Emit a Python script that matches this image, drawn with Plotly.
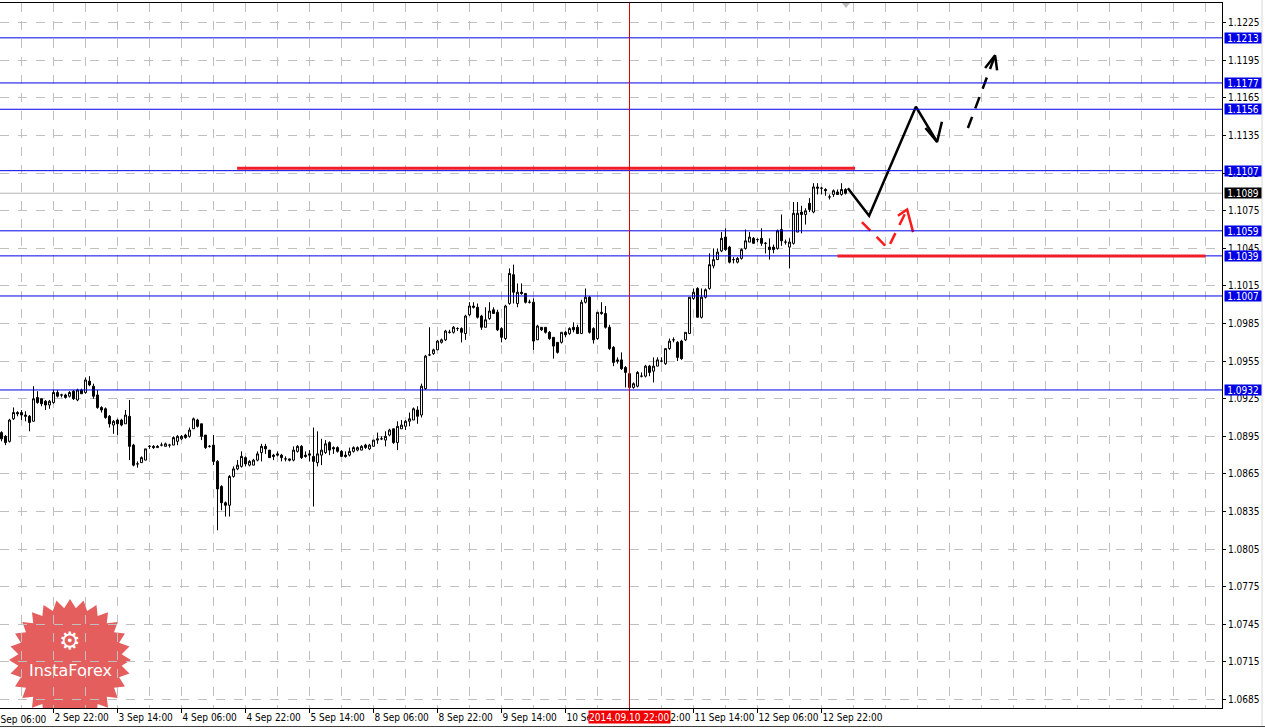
import math
import plotly.graph_objects as go

# ---------------- data (EURUSD-like H1 bars) ----------------
bar_open = [1.0898,1.0895,1.0891,1.0909,1.0914,1.0914,1.0912,1.0911,1.0907,1.0926,
            1.0925,1.0923,1.0920,1.0922,1.0930,1.0928,1.0928,1.0927,1.0931,1.0924,
            1.0932,1.0930,1.0939,1.0935,1.0928,1.0918,1.0917,1.0911,1.0904,1.0908,
            1.0908,1.0905,1.0911,1.0888,1.0873,1.0874,1.0876,1.0887,1.0887,1.0886,
            1.0888,1.0887,1.0888,1.0888,1.0891,1.0893,1.0896,1.0895,1.0901,1.0908,
            1.0905,1.0896,1.0887,1.0888,1.0875,1.0855,1.0842,1.0840,1.0863,1.0869,
            1.0871,1.0878,1.0872,1.0872,1.0876,1.0882,1.0887,1.0884,1.0880,1.0881,
            1.0880,1.0877,1.0877,1.0876,1.0883,1.0887,1.0880,1.0881,1.0879,1.0874,
            1.0880,1.0882,1.0890,1.0886,1.0886,1.0883,1.0880,1.0880,1.0883,1.0884,
            1.0884,1.0888,1.0885,1.0887,1.0892,1.0893,1.0892,1.0896,1.0901,1.0890,
            1.0901,1.0903,1.0907,1.0908,1.0916,1.0912,1.0933,1.0960,1.0961,1.0964,
            1.0970,1.0972,1.0978,1.0978,1.0981,1.0981,1.0977,1.0992,1.0999,1.0998,
            1.0991,1.0982,1.0989,1.0996,1.0994,1.0981,1.0973,1.1001,1.1024,1.1001,
            1.1010,1.1009,1.1002,1.1002,1.0972,1.0982,1.0982,1.0978,1.0974,1.0970,
            1.0970,1.0978,1.0977,1.0982,1.0982,1.0977,1.1002,1.1006,1.0981,1.0973,
            1.0994,1.0993,1.0982,1.0966,1.0956,1.0956,1.0950,1.0945,1.0934,1.0935,
            1.0943,1.0943,1.0951,1.0947,1.0951,1.0955,1.0953,1.0965,1.0972,1.0970,
            1.0971,1.0972,1.0977,1.1005,1.1013,1.0990,1.1006,1.1013,1.1031,1.1036,
            1.1043,1.1054,1.1046,1.1036,1.1034,1.1037,1.1045,1.1050,1.1053,1.1052,
            1.1053,1.1049,1.1046,1.1046,1.1045,1.1060,1.1050,1.1046,1.1049,1.1058,
            1.1074,1.1072,1.1081,1.1074,1.1094,1.1093,1.1092,1.1086,1.1088,1.1090,
            1.1088,1.1092]
bar_high = [1.0899,1.0896,1.0909,1.0918,1.0915,1.0916,1.0915,1.0912,1.0935,1.0931,
            1.0925,1.0924,1.0924,1.0932,1.0932,1.0929,1.0929,1.0931,1.0932,1.0933,
            1.0933,1.0942,1.0943,1.0937,1.0932,1.0919,1.0918,1.0912,1.0908,1.0909,
            1.0909,1.0916,1.0924,1.0889,1.0875,1.0879,1.0885,1.0888,1.0888,1.0888,
            1.0890,1.0890,1.0889,1.0895,1.0896,1.0896,1.0897,1.0902,1.0910,1.0909,
            1.0905,1.0896,1.0888,1.0896,1.0876,1.0856,1.0843,1.0864,1.0871,1.0876,
            1.0883,1.0879,1.0876,1.0877,1.0883,1.0889,1.0889,1.0884,1.0881,1.0883,
            1.0881,1.0879,1.0877,1.0887,1.0888,1.0888,1.0883,1.0884,1.0902,1.0899,
            1.0893,1.0892,1.0891,1.0887,1.0887,1.0884,1.0883,1.0886,1.0887,1.0887,
            1.0888,1.0889,1.0889,1.0892,1.0898,1.0895,1.0899,1.0901,1.0901,1.0907,
            1.0908,1.0908,1.0914,1.0918,1.0919,1.0937,1.0960,1.0982,1.0965,1.0972,
            1.0973,1.0980,1.0980,1.0983,1.0982,1.0982,1.0992,1.1002,1.1002,1.1001,
            1.0992,1.0998,1.1002,1.0998,1.0996,1.0982,1.1000,1.1029,1.1032,1.1017,
            1.1017,1.1009,1.1004,1.1005,1.0984,1.0982,1.0982,1.0979,1.0974,1.0970,
            1.0978,1.0979,1.0982,1.0986,1.0984,1.1004,1.1013,1.1007,1.0982,1.0994,
            1.1002,1.0999,1.0984,1.0967,1.0958,1.0962,1.0951,1.0946,1.0938,1.0947,
            1.0946,1.0952,1.0952,1.0958,1.0958,1.0958,1.0965,1.0973,1.0974,1.0971,
            1.0972,1.0978,1.1006,1.1013,1.1014,1.1013,1.1013,1.1041,1.1045,1.1045,
            1.1058,1.1061,1.1047,1.1038,1.1038,1.1045,1.1060,1.1058,1.1054,1.1053,
            1.1061,1.1050,1.1053,1.1048,1.1060,1.1072,1.1052,1.1053,1.1082,1.1082,
            1.1079,1.1077,1.1085,1.1097,1.1097,1.1094,1.1093,1.1088,1.1092,1.1092,
            1.1097,1.1093]
bar_low = [1.0891,1.0888,1.0890,1.0908,1.0911,1.0908,1.0907,1.0899,1.0907,1.0921,
           1.0919,1.0916,1.0917,1.0921,1.0926,1.0926,1.0925,1.0926,1.0924,1.0923,
           1.0929,1.0929,1.0935,1.0925,1.0917,1.0914,1.0909,1.0902,1.0897,1.0896,
           1.0903,1.0905,1.0876,1.0871,1.0870,1.0874,1.0876,1.0885,1.0885,1.0886,
           1.0887,1.0887,1.0886,1.0888,1.0888,1.0892,1.0893,1.0894,1.0901,1.0902,
           1.0892,1.0885,1.0886,1.0872,1.0820,1.0836,1.0831,1.0831,1.0862,1.0868,
           1.0870,1.0871,1.0871,1.0872,1.0875,1.0875,1.0881,1.0878,1.0876,1.0879,
           1.0875,1.0875,1.0875,1.0875,1.0882,1.0877,1.0878,1.0875,1.0839,1.0871,
           1.0872,1.0881,1.0880,1.0881,1.0882,1.0879,1.0878,1.0879,1.0882,1.0883,
           1.0884,1.0885,1.0884,1.0887,1.0889,1.0892,1.0887,1.0895,1.0889,1.0884,
           1.0901,1.0900,1.0903,1.0908,1.0905,1.0910,1.0932,1.0959,1.0960,1.0964,
           1.0969,1.0971,1.0977,1.0977,1.0979,1.0970,1.0972,1.0991,1.0997,1.0989,
           1.0980,1.0982,1.0988,1.0993,1.0979,1.0970,1.0972,1.1000,1.1001,1.0998,
           1.1008,1.1001,1.1001,1.0964,1.0972,1.0979,1.0977,1.0972,1.0957,1.0961,
           1.0969,1.0974,1.0976,1.0978,1.0977,1.0977,1.1001,1.0977,1.0969,1.0972,
           1.0992,1.0981,1.0964,1.0951,1.0953,1.0948,1.0934,1.0933,1.0933,1.0934,
           1.0942,1.0942,1.0943,1.0938,1.0951,1.0954,1.0952,1.0964,1.0970,1.0955,
           1.0956,1.0971,1.0977,1.1004,1.0990,1.0989,1.1005,1.1012,1.1029,1.1036,
           1.1042,1.1043,1.1033,1.1033,1.1033,1.1036,1.1044,1.1050,1.1049,1.1050,
           1.1047,1.1041,1.1036,1.1041,1.1044,1.1047,1.1048,1.1029,1.1048,1.1058,
           1.1057,1.1064,1.1074,1.1073,1.1088,1.1088,1.1087,1.1084,1.1086,1.1088,
           1.1087,1.1088]
bar_close = [1.0893,1.0890,1.0908,1.0914,1.0913,1.0912,1.0911,1.0906,1.0925,1.0922,
             1.0921,1.0920,1.0923,1.0930,1.0927,1.0928,1.0926,1.0930,1.0925,1.0932,
             1.0929,1.0940,1.0936,1.0927,1.0918,1.0916,1.0910,1.0905,1.0907,1.0905,
             1.0904,1.0912,1.0887,1.0872,1.0873,1.0878,1.0885,1.0887,1.0886,1.0887,
             1.0888,1.0889,1.0888,1.0894,1.0895,1.0895,1.0894,1.0900,1.0909,1.0903,
             1.0895,1.0886,1.0887,1.0875,1.0853,1.0842,1.0840,1.0863,1.0869,1.0872,
             1.0879,1.0873,1.0875,1.0876,1.0881,1.0887,1.0885,1.0878,1.0879,1.0880,
             1.0878,1.0877,1.0876,1.0884,1.0887,1.0878,1.0879,1.0880,1.0875,1.0881,
             1.0884,1.0889,1.0884,1.0885,1.0883,1.0879,1.0879,1.0883,1.0886,1.0886,
             1.0887,1.0886,1.0888,1.0892,1.0893,1.0893,1.0895,1.0900,1.0890,1.0903,
             1.0904,1.0907,1.0909,1.0917,1.0911,1.0935,1.0959,1.0960,1.0964,1.0971,
             1.0972,1.0979,1.0978,1.0982,1.0981,1.0978,1.0991,1.0999,1.0998,1.0990,
             1.0982,1.0988,1.0995,1.0993,1.0980,1.0974,1.0999,1.1025,1.1010,1.1010,
             1.1009,1.1002,1.1002,1.0971,1.0983,1.0980,1.0978,1.0973,1.0967,1.0962,
             1.0978,1.0976,1.0981,1.0980,1.0977,1.1002,1.1006,1.0978,1.0972,1.0994,
             1.0993,1.0982,1.0965,1.0954,1.0955,1.0949,1.0946,1.0934,1.0937,1.0946,
             1.0943,1.0951,1.0946,1.0951,1.0956,1.0955,1.0965,1.0971,1.0972,1.0958,
             1.0957,1.0978,1.1006,1.1010,1.0990,1.1006,1.1012,1.1032,1.1036,1.1042,
             1.1053,1.1044,1.1034,1.1036,1.1037,1.1044,1.1051,1.1054,1.1049,1.1052,
             1.1049,1.1049,1.1044,1.1044,1.1059,1.1051,1.1050,1.1050,1.1073,1.1073,
             1.1072,1.1075,1.1076,1.1094,1.1093,1.1093,1.1091,1.1086,1.1091,1.1088,
             1.1092,1.1089]

time_tick_bars = [13, 29, 45, 61, 77, 93, 109, 125, 141, 157, 173, 189, 205]
time_tick_labels = ["2 Sep 22:00", "3 Sep 14:00", "4 Sep 06:00", "4 Sep 22:00", "5 Sep 14:00",
                    "8 Sep 06:00", "8 Sep 22:00", "9 Sep 14:00", "10 Sep 06:00", "10 Sep 22:00",
                    "11 Sep 14:00", "12 Sep 06:00", "12 Sep 22:00"]
first_cut_label = "2 Sep 06:00"
price_ticks = [1.0685, 1.0715, 1.0745, 1.0775, 1.0805, 1.0835, 1.0865, 1.0895, 1.0925,
               1.0955, 1.0985, 1.1015, 1.1045, 1.1075, 1.1105, 1.1135, 1.1165, 1.1195, 1.1225]

level_prices = [1.1213, 1.1177, 1.1156, 1.1107, 1.1059, 1.1039, 1.1007, 1.0932]
bid_price = 1.1089
cursor_bar = 157
cursor_label = "2014.09.10 22:00"

# drawn analysis objects (bar index, price)
red_zone_upper = dict(bars=[58.9, 213.4], price=1.1109)
red_zone_lower = dict(bars=[209.0, 301.0], price=1.1039)
black_path_bars = [211.6, 216.9, 228.6, 233.9]
black_path_prices = [1.1093, 1.1071, 1.1158, 1.1130]
black_head_bars = [231.0, 233.9, 235.1]
black_head_prices = [1.1141, 1.1130, 1.1146]
dash_black_bars = [241.6, 248.4]
dash_black_prices = [1.1141, 1.1199]
dash_black_head_bars = [245.9, 248.4, 248.9]
dash_black_head_prices = [1.1189, 1.1199, 1.1187]
red_dash_bars = [215.1, 221.6, 226.4]
red_dash_prices = [1.1066, 1.1045, 1.1076]
red_head_bars = [224.1, 226.4, 227.9]
red_head_prices = [1.1071, 1.1076, 1.1058]

# ---------------- layout geometry ----------------
W, H = 1265, 728
PL, PR, PT, PB = 0, 1222, 3, 708
X_MIN = -0.375
X_MAX = X_MIN + (PR - PL) / 4.0
Y_MAX = 1.12408
Y_MIN = 1.06782

FONT = "Tahoma, 'DejaVu Sans Condensed', 'Liberation Sans', sans-serif"
BLUE = "#0000E6"

fig = go.Figure()

fig.add_trace(go.Candlestick(
    x=list(range(len(bar_open))), open=bar_open, high=bar_high, low=bar_low, close=bar_close,
    increasing=dict(line=dict(color="black", width=1), fillcolor="white"),
    decreasing=dict(line=dict(color="black", width=1), fillcolor="black"),
    whiskerwidth=0, showlegend=False, hoverinfo="skip"))

# drawn arrows
def line_trace(xs, ys, color, width, dash="solid"):
    fig.add_trace(go.Scatter(x=xs, y=ys, mode="lines", showlegend=False, hoverinfo="skip",
                             line=dict(color=color, width=width, dash=dash)))

line_trace(black_path_bars, black_path_prices, "black", 2.5)
line_trace(black_head_bars, black_head_prices, "black", 2.5)
line_trace(dash_black_bars, dash_black_prices, "black", 2.5, "12px,9px")
line_trace(dash_black_head_bars, dash_black_head_prices, "black", 2.5)
line_trace(red_dash_bars, red_dash_prices, "#FF1A1A", 2.5, "12px,9px")
line_trace(red_head_bars, red_head_prices, "#FF1A1A", 2.5)

shapes = []
# horizontal levels
for p in level_prices:
    shapes.append(dict(type="line", xref="paper", x0=0, x1=1, yref="y", y0=p, y1=p,
                       line=dict(color=BLUE, width=1), layer="above"))
shapes.append(dict(type="line", xref="paper", x0=0, x1=1, yref="y", y0=bid_price, y1=bid_price,
                   line=dict(color="#B4B4B4", width=1), layer="below"))
# red zones
for z in (red_zone_upper, red_zone_lower):
    shapes.append(dict(type="line", xref="x", yref="y", x0=z["bars"][0], x1=z["bars"][1],
                       y0=z["price"], y1=z["price"], line=dict(color="#F01E28", width=3), layer="above"))
# cursor line
shapes.append(dict(type="line", xref="x", yref="paper", x0=cursor_bar, x1=cursor_bar, y0=0, y1=1,
                   line=dict(color="#E00000", width=1), layer="above"))

# logo (starburst) in data coordinates so it is clipped to the plot area
def px_to_data(px, py):
    return ((px - PL) / 4.0 + X_MIN, Y_MAX - (py - PT) * (Y_MAX - Y_MIN) / (PB - PT))

cx, cy, r_out, r_in, n = 70, 660, 61, 52, 28
pts = []
for k in range(2 * n):
    r = r_out if k % 2 == 0 else r_in
    a = math.pi * k / n - math.pi / 2
    pts.append(px_to_data(cx + r * math.cos(a), cy + r * math.sin(a)))
path = "M " + " L ".join(f"{x:.4f},{y:.6f}" for x, y in pts) + " Z"
shapes.append(dict(type="path", xref="x", yref="y", path=path, fillcolor="#E04848",
                   opacity=0.88, line=dict(width=0), layer="below"))

# chart-shift marker at top
shapes.append(dict(type="path", xref="paper", yref="paper",
                   path=f"M {842/PR},{(PB-3)/(PB-PT)} L {850/PR},{(PB-3)/(PB-PT)} L {846/PR},{(PB-8)/(PB-PT)} Z",
                   fillcolor="#BDBDBD", line=dict(width=0)))
# window frame lines
shapes.append(dict(type="line", xref="paper", yref="paper", x0=1262/PR, x1=1262/PR,
                   y0=(PB-726)/(PB-PT), y1=(PB-0)/(PB-PT), line=dict(color="#D8D8D8", width=1)))
shapes.append(dict(type="line", xref="paper", yref="paper", x0=0, x1=1265/PR,
                   y0=(PB-726.5)/(PB-PT), y1=(PB-726.5)/(PB-PT), line=dict(color="#404040", width=1)))

annotations = []
for p in level_prices:
    annotations.append(dict(xref="paper", x=1, xanchor="left", xshift=2, yref="y", y=p,
                            text=f"{p:.4f}", showarrow=False, bgcolor=BLUE, width=36, height=10,
                            borderpad=0, font=dict(family=FONT, size=10, color="white")))
annotations.append(dict(xref="paper", x=1, xanchor="left", xshift=2, yref="y", y=bid_price,
                        text=f"{bid_price:.4f}", showarrow=False, bgcolor="black", width=36, height=10,
                        borderpad=0, font=dict(family=FONT, size=10, color="white")))
annotations.append(dict(xref="x", x=cursor_bar, xanchor="center", yref="paper", y=0, yanchor="top",
                        yshift=-2, text=cursor_label, showarrow=False, bgcolor="#F00000", height=12,
                        borderpad=0, font=dict(family=FONT, size=10, color="white")))
annotations.append(dict(xref="paper", x=-10 / PR, xanchor="left", yref="paper", y=0, yanchor="top",
                        yshift=-4, text=first_cut_label, showarrow=False,
                        font=dict(family=FONT, size=10, color="black")))
# logo texts
annotations.append(dict(xref="paper", x=cx / PR, xanchor="center", yref="paper",
                        y=(PB - 670) / (PB - PT), yanchor="middle",
                        text="InstaForex", showarrow=False,
                        font=dict(family="'DejaVu Sans', sans-serif", size=16, color="white")))
annotations.append(dict(xref="paper", x=cx / PR, xanchor="center", yref="paper",
                        y=(PB - 641) / (PB - PT), yanchor="middle",
                        text="⚙", showarrow=False,
                        font=dict(family="'DejaVu Sans', sans-serif", size=24, color="white")))

fig.update_layout(
    width=W, height=H, margin=dict(l=PL, r=W - PR, t=PT, b=H - PB, pad=0),
    paper_bgcolor="white", plot_bgcolor="white",
    shapes=shapes, annotations=annotations, showlegend=False,
    font=dict(family=FONT, size=10, color="black"),
    xaxis=dict(range=[X_MIN, X_MAX], rangeslider=dict(visible=False), showline=True, mirror=True,
               linecolor="black", linewidth=1, tickmode="array", tickvals=time_tick_bars,
               ticktext=time_tick_labels, ticks="outside", ticklen=4, tickcolor="black",
               tickangle=0, automargin=False,
               ticklabelposition="outside right", showgrid=True, gridcolor="#C0C0C0",
               griddash="dash", gridwidth=1, zeroline=False,
               minor=dict(tick0=5, dtick=8, showgrid=True, gridcolor="#C0C0C0",
                          griddash="dash", ticks="")),
    yaxis=dict(range=[Y_MIN, Y_MAX], side="right", showline=True, linecolor="black", linewidth=1,
               tickmode="array", tickvals=price_ticks, ticktext=[f"{t:.4f}" for t in price_ticks],
               ticks="outside", ticklen=3, tickcolor="black", showgrid=True, gridcolor="#C0C0C0",
               griddash="dash", zeroline=False, fixedrange=True, automargin=False,
               ticklabeloverflow="allow"),
)

fig.write_html("out.html", config={"displayModeBar": False},
               post_script="document.body.style.margin='0';document.body.style.overflow='hidden';")
